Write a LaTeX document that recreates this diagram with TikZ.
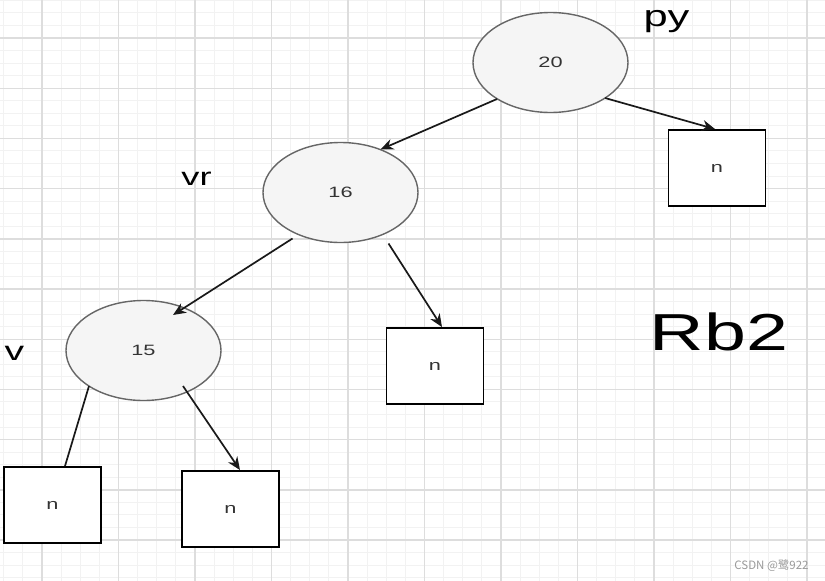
\documentclass[tikz,border=0pt]{standalone}
\usepackage{graphicx}
\usepackage{fontspec}
\setmainfont{Liberation Sans}
\newfontfamily\cjkfont{Noto Sans CJK SC}
\usetikzlibrary{arrows.meta,shapes.geometric,calc}
\definecolor{gridminor}{HTML}{F2F2F2}
\definecolor{gridmajor}{HTML}{DDDDDD}
\definecolor{ellfill}{HTML}{F5F5F5}
\definecolor{ellline}{HTML}{666666}
\definecolor{ntext}{HTML}{333333}
\definecolor{wmark}{HTML}{9A9A9A}
\newcommand{\widetxt}[1]{\scalebox{1.45}[1]{#1}}
\begin{document}
\begin{tikzpicture}[x=1pt,y=-1pt,
  treenode/.style={ellipse, draw=ellline, fill=ellfill, line width=1.4pt,
    minimum width=155pt, minimum height=100pt, inner sep=0pt,
    font=\fontsize{15}{15}\selectfont, text=ntext},
  leafbox/.style={rectangle, draw=black, fill=white, line width=1.9pt,
    minimum width=97pt, minimum height=76pt, inner sep=0pt,
    font=\fontsize{15}{15}\selectfont, text=ntext},
  edgeline/.style={line width=1.7pt, draw=black!90},
  arr/.style={edgeline, -{Stealth[length=13pt,width=11pt]}},
  lbl/.style={anchor=base, inner sep=0pt, text=black}]
\useasboundingbox (0,0) rectangle (825,581);
\fill[white] (0,0) rectangle (825,581);
% grid
\foreach \k in {-2,...,40} {\draw[gridminor, line width=1pt] ({42+\k*19.125},0) -- ({42+\k*19.125},581);}
\foreach \k in {-3,...,43} {\draw[gridminor, line width=1pt] (0,{38+\k*12.55}) -- (825,{38+\k*12.55});}
\foreach \k in {0,...,10} {\draw[gridmajor, line width=1.4pt] ({42+\k*76.5},0) -- ({42+\k*76.5},581);}
\foreach \k in {0,...,10} {\draw[gridmajor, line width=1.4pt] (0,{38+\k*50.2}) -- (825,{38+\k*50.2});}
% nodes
\node[treenode] (n20) at (550.5,62.5) {\widetxt{20}};
\node[treenode] (n16) at (340.5,192.5) {\widetxt{16}};
\node[treenode] (n15) at (143.5,350.5) {\widetxt{15}};
\node[leafbox] (sqR) at (717,168) {\widetxt{n}};
\node[leafbox] (sqM) at (435,366) {\widetxt{n}};
\node[leafbox] (sqL) at (52.5,505) {\widetxt{n}};
\node[leafbox] (sqB) at (230.5,509) {\widetxt{n}};
% edges
\draw[arr] ($(n20.center)+(-53.5,36.5)$) -- ($(n16.center)+(40,-43)$);
\draw[arr] ($(n20.center)+(54.5,35.5)$) -- ($(sqR.north)+(-2,0)$);
\draw[arr] ($(n16.center)+(-48,46)$) -- ($(n15.center)+(29.5,-35.5)$);
\draw[arr] ($(n16.center)+(48,51)$) -- ($(sqM.north)+(7,0)$);
\draw[edgeline] ($(n15.center)+(-54.5,35.5)$) -- ($(sqL.north)+(12.5,0)$);
\draw[arr] ($(n15.center)+(39.5,35.5)$) -- ($(sqB.north)+(9.5,0)$);
% labels
\node[lbl, font=\fontsize{30}{30}\selectfont] (lpy) at (666.5,26) {\widetxt{py}};
\node[lbl, font=\fontsize{25}{25}\selectfont] (lvr) at (196.5,185) {\widetxt{vr}};
\node[lbl, font=\fontsize{27}{27}\selectfont] (lv) at (14.5,360) {\widetxt{v}};
\node[lbl, font=\fontsize{52}{52}\selectfont] (lrb) at (719,350) {\widetxt{Rb2}};
\node[lbl, font=\cjkfont\fontsize{11.5}{11.5}\selectfont, text=wmark] (wm) at (771.5,569) {CSDN @鹭922};
\end{tikzpicture}
\end{document}
